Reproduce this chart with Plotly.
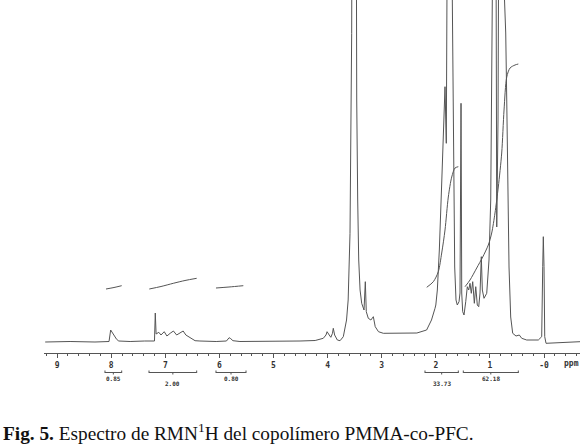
import plotly.graph_objects as go

# ---------------- data ----------------
# 1H NMR spectrum: chemical shift (ppm) and intensity (arbitrary units)
spectrum_ppm = [
    9.22, 8.76, 8.30, 8.04, 8.01, 7.99, 7.96, 7.93, 7.90, 7.86, 7.65, 7.38,
    7.20, 7.185, 7.17, 7.12, 7.08, 7.02, 6.97, 6.91, 6.85, 6.79, 6.73, 6.67,
    6.62, 6.57, 6.51, 6.45, 6.36, 6.06, 5.87, 5.82, 5.79, 5.75, 5.62, 5.06,
    4.51, 4.23, 4.08, 4.03, 4.01, 3.97, 3.94, 3.91, 3.895, 3.87, 3.82, 3.77,
    3.71, 3.65, 3.62, 3.586, 3.567, 3.555, 3.51, 3.475, 3.462, 3.444, 3.425,
    3.40, 3.37, 3.327, 3.303, 3.285, 3.248, 3.20, 3.155, 3.12, 3.06, 2.97,
    2.66, 2.35, 2.17, 2.08, 2.015, 2.00, 1.972, 1.935, 1.891, 1.861, 1.830,
    1.806, 1.784, 1.769, 1.732, 1.695, 1.682, 1.669, 1.651, 1.627, 1.603,
    1.571, 1.553, 1.534, 1.521, 1.503, 1.479, 1.447, 1.418, 1.392, 1.368,
    1.344, 1.318, 1.288, 1.262, 1.233, 1.207, 1.183, 1.159, 1.140, 1.109,
    1.059, 1.017, 0.985, 0.967, 0.956, 0.924, 0.893, 0.874, 0.850, 0.823,
    0.776, 0.730, 0.708, 0.689, 0.671, 0.647, 0.616, 0.579, 0.518, 0.457,
    0.412, 0.32, 0.105, 0.043, 0.024, 0.013, 0.0, -0.013, -0.037, -0.235,
    -0.665,
]
spectrum_int = [
    0, 0.5, 0, 0.5, 12, 10.5, 8, 5.5, 2.7, 1, 0.5, 1,
    1, 29, 8, 9.7, 7, 10.3, 6, 8.7, 11, 7, 9.3, 11,
    7, 5.3, 2.7, 1.3, 1, 0.5, 1, 4.3, 3.3, 1.3, 0.5, 0.5,
    1, 1.5, 3.7, 7, 10.3, 7, 4.7, 8.7, 13.7, 7, 2, 1.3,
    5.3, 22, 42, 108.7, 208.7, 308.7, 1400, 342, 242, 142, 82,
    52, 38.7, 32, 60.3, 30.3, 23.7, 22, 25.3, 15.3, 10.3, 8.7,
    8.7, 9, 12, 22, 33.7, 37, 52, 92, 159, 209, 255.3,
    198.7, 282, 342, 1100, 342, 242, 142, 75, 42, 37,
    40.3, 49, 238.7, 49, 30.3, 27, 40.3, 55.3, 52, 58.7,
    48.7, 60.3, 38.7, 55.3, 37, 35.3, 49, 85.3, 52, 43.7,
    48.7, 82, 142, 242, 342, 1200, 342, 115, 222, 342,
    1300, 342, 309, 242, 159, 75, 25, 8.7, 6, 7,
    3.7, 2, 2, 5.3, 75.3, 105.3, 75.3, 5.3, -1.3, -0.7,
    0.3,
]

# integral traces (ppm, height)
integral_ppm = [
    [8.096, 7.948, 7.806],
    [7.296, 7.079, 6.852, 6.636, 6.420],
    [6.063, 5.823, 5.558],
    [2.168, 2.046, 1.954, 1.891, 1.830, 1.769, 1.706, 1.645, 1.584],
    [1.460, 1.368, 1.244, 1.133, 1.030, 0.967, 0.906, 0.845, 0.782, 0.739,
     0.689, 0.628, 0.536, 0.475],
]
integral_int = [
    [53, 54.5, 56.3],
    [53, 55.5, 58.7, 61.5, 63.7],
    [54, 55, 56.3],
    [54.7, 60.3, 70.3, 89, 112, 145, 165, 174, 175.3],
    [55.3, 62, 74, 85, 97, 109, 129, 155, 189, 232, 265, 274, 277, 278],
]

# integration regions (ppm from, ppm to) and their values
region_start = [8.115, 7.301, 6.063, 2.200, 1.492]
region_end = [7.806, 6.420, 5.508, 1.584, 0.475]
region_value = ["0.85", "2.00", "0.80", "33.73", "62.18"]
region_label_row = [0, 1, 0, 1, 0]

tick_vals = [9, 8, 7, 6, 5, 4, 3, 2, 1, 0]
tick_text = ["9", "8", "7", "6", "5", "4", "3", "2", "1", "-0"]

caption = "<b>Fig. 5.</b> Espectro de RMN<sup>1</sup>H del copolímero PMMA-co-PFC."

# ---------------- figure ----------------
W, H = 580, 448
PLOT_BOTTOM = 353  # pixel row of the ppm axis


def py(pixel_row):
    """pixel row -> paper y"""
    return (PLOT_BOTTOM - pixel_row) / PLOT_BOTTOM


LINE = "#555555"

fig = go.Figure()
fig.add_trace(go.Scatter(
    x=spectrum_ppm, y=spectrum_int, mode="lines",
    line=dict(color=LINE, width=1), hoverinfo="skip", showlegend=False,
))
for xs, ys in zip(integral_ppm, integral_int):
    fig.add_trace(go.Scatter(
        x=xs, y=ys, mode="lines",
        line=dict(color=LINE, width=1, shape="spline", smoothing=0.8),
        hoverinfo="skip", showlegend=False,
    ))

shapes = []
annotations = []
for a, b, v, row in zip(region_start, region_end, region_value, region_label_row):
    yb = py(372.5)
    shapes.append(dict(type="line", xref="x", yref="paper", x0=a, x1=b, y0=yb, y1=yb,
                       line=dict(color=LINE, width=1)))
    for xe in (a, b):
        shapes.append(dict(type="line", xref="x", yref="paper", x0=xe, x1=xe,
                           y0=py(370.5), y1=py(373), line=dict(color=LINE, width=1)))
    mid = (a + b) / 2
    shapes.append(dict(type="line", xref="x", yref="paper", x0=mid, x1=mid,
                       y0=py(372.5), y1=py(374.5), line=dict(color=LINE, width=1)))
    annotations.append(dict(
        x=mid, xref="x", y=py(378 if row == 0 else 383.5), yref="paper",
        text=v, showarrow=False, xanchor="center", yanchor="middle",
        font=dict(family="DejaVu Sans Mono", size=6, color="#333333", weight="bold"),
    ))

annotations.append(dict(
    x=-0.50, xref="x", y=py(363.5), yref="paper", text="ppm", showarrow=False,
    xanchor="center", yanchor="middle",
    font=dict(family="DejaVu Sans Mono", size=8, color="#333333", weight="bold"),
))
annotations.append(dict(
    x=(1 - 44) / (W - 44), xref="paper", y=py(432), yref="paper", text=caption,
    showarrow=False, xanchor="left", yanchor="middle",
    font=dict(family="Liberation Serif", size=19.3, color="#111111"),
))

fig.update_layout(
    width=W, height=H,
    margin=dict(l=44, r=0, t=0, b=H - PLOT_BOTTOM, pad=0),
    paper_bgcolor="white", plot_bgcolor="white",
    shapes=shapes, annotations=annotations,
    xaxis=dict(
        range=[9.242, -0.665], showgrid=False, zeroline=False,
        showline=True, linecolor=LINE, linewidth=1,
        ticks="outside", ticklen=4, tickwidth=1, tickcolor=LINE,
        tickvals=tick_vals, ticktext=tick_text,
        tickfont=dict(family="DejaVu Sans Mono", size=8, color="#333333", weight="bold"),
        minor=dict(dtick=0.2, ticks="outside", ticklen=2, tickcolor=LINE, showgrid=False),
    ),
    yaxis=dict(range=[-11, 342], visible=False, showgrid=False, zeroline=False),
)

fig.write_html(
    "out.html",
    config={"displayModeBar": False},
    post_script="document.body.style.margin='0';document.body.style.overflow='hidden';",
)
